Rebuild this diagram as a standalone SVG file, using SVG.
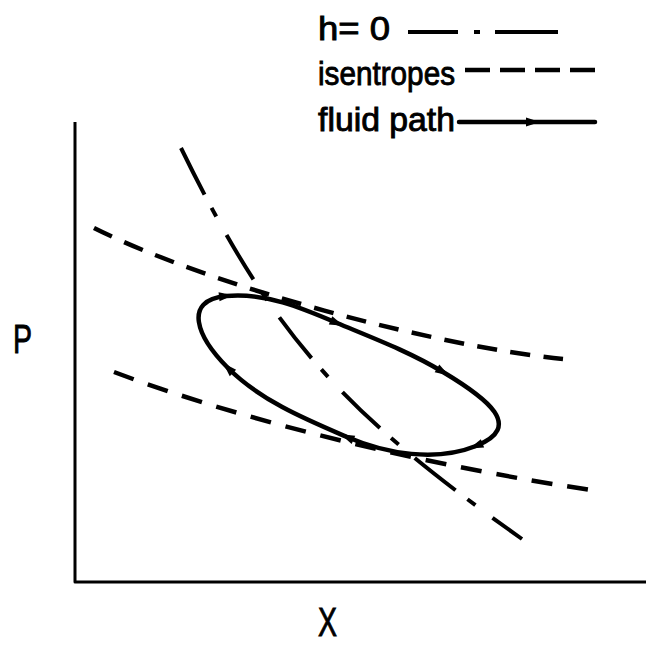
<svg xmlns="http://www.w3.org/2000/svg" width="646" height="645" viewBox="0 0 646 645">
<style>
text{font-family:"Liberation Sans","DejaVu Sans",sans-serif;fill:#000;stroke:#000;stroke-width:0.9}
.lbl{font-size:33px}
.ax{font-size:40px}
.axis{fill:none;stroke:#000;stroke-width:3;stroke-linejoin:round}
.isen{fill:none;stroke:#000;stroke-width:4.5}
.h0{fill:none;stroke:#000;stroke-width:4}
.fp{fill:none;stroke:#000;stroke-width:4.5;stroke-linecap:round;stroke-linejoin:round}
</style>
<defs>
<marker id="arr" viewBox="-8 -6 16 12" markerWidth="16" markerHeight="12" refX="0" refY="0" orient="auto" markerUnits="userSpaceOnUse">
<path d="M-7,-4.5 L7,0 L-7,4.5 z" fill="#000"/>
</marker>
</defs>
<rect width="646" height="645" fill="#fff"/>
<g id="legend">
<text class="lbl" x="318" y="40" textLength="72" lengthAdjust="spacingAndGlyphs">h= 0</text>
<line class="h0" x1="408" y1="32" x2="458" y2="32"/>
<line class="h0" x1="474" y1="32" x2="480" y2="32"/>
<line class="h0" x1="495" y1="32" x2="558" y2="32"/>
<text class="lbl" x="318" y="85" textLength="137" lengthAdjust="spacingAndGlyphs">isentropes</text>
<path class="isen" d="M465,70H490M500,70H525M535,70H560M570,70H595"/>
<text class="lbl" x="318" y="131" textLength="137" lengthAdjust="spacingAndGlyphs">fluid path</text>
<polyline class="fp" points="459,122 533,122 595,122" stroke-width="3.5" marker-mid="url(#arr)"/>
</g>
<g id="axes">
<polyline class="axis" points="75,122 75,582 646,582"/>
<text class="ax" x="13" y="353" textLength="19" lengthAdjust="spacingAndGlyphs">P</text>
<text class="ax" x="318" y="636" textLength="19" lengthAdjust="spacingAndGlyphs">X</text>
</g>
<g id="isentropes">
<path class="isen" d="M94,228 C210,286 434,346 563,359" stroke-dasharray="20 13.5"/>
<path class="isen" d="M114,372 C254,425 443,468 591,490" stroke-dasharray="21 15"/>
</g>
<g id="h-zero">
<path class="h0" d="M181,148 C275,341 347,414.5 522,539" stroke-dasharray="52 15 10 21"/>
</g>
<g id="fluid-path">
<path class="fp" d="M226,296 C264,292 302,308 337,323 C373,338 410,352 443,372 C487.6,398.7 524.3,426.7 476,446 C436,462 386.5,454 347,437 C304.7,418.9 260.5,400.5 228,368 C196.9,336.9 182.2,300.4 226,296" marker-start="url(#arr)" marker-mid="url(#arr)"/>
</g>
</svg>
